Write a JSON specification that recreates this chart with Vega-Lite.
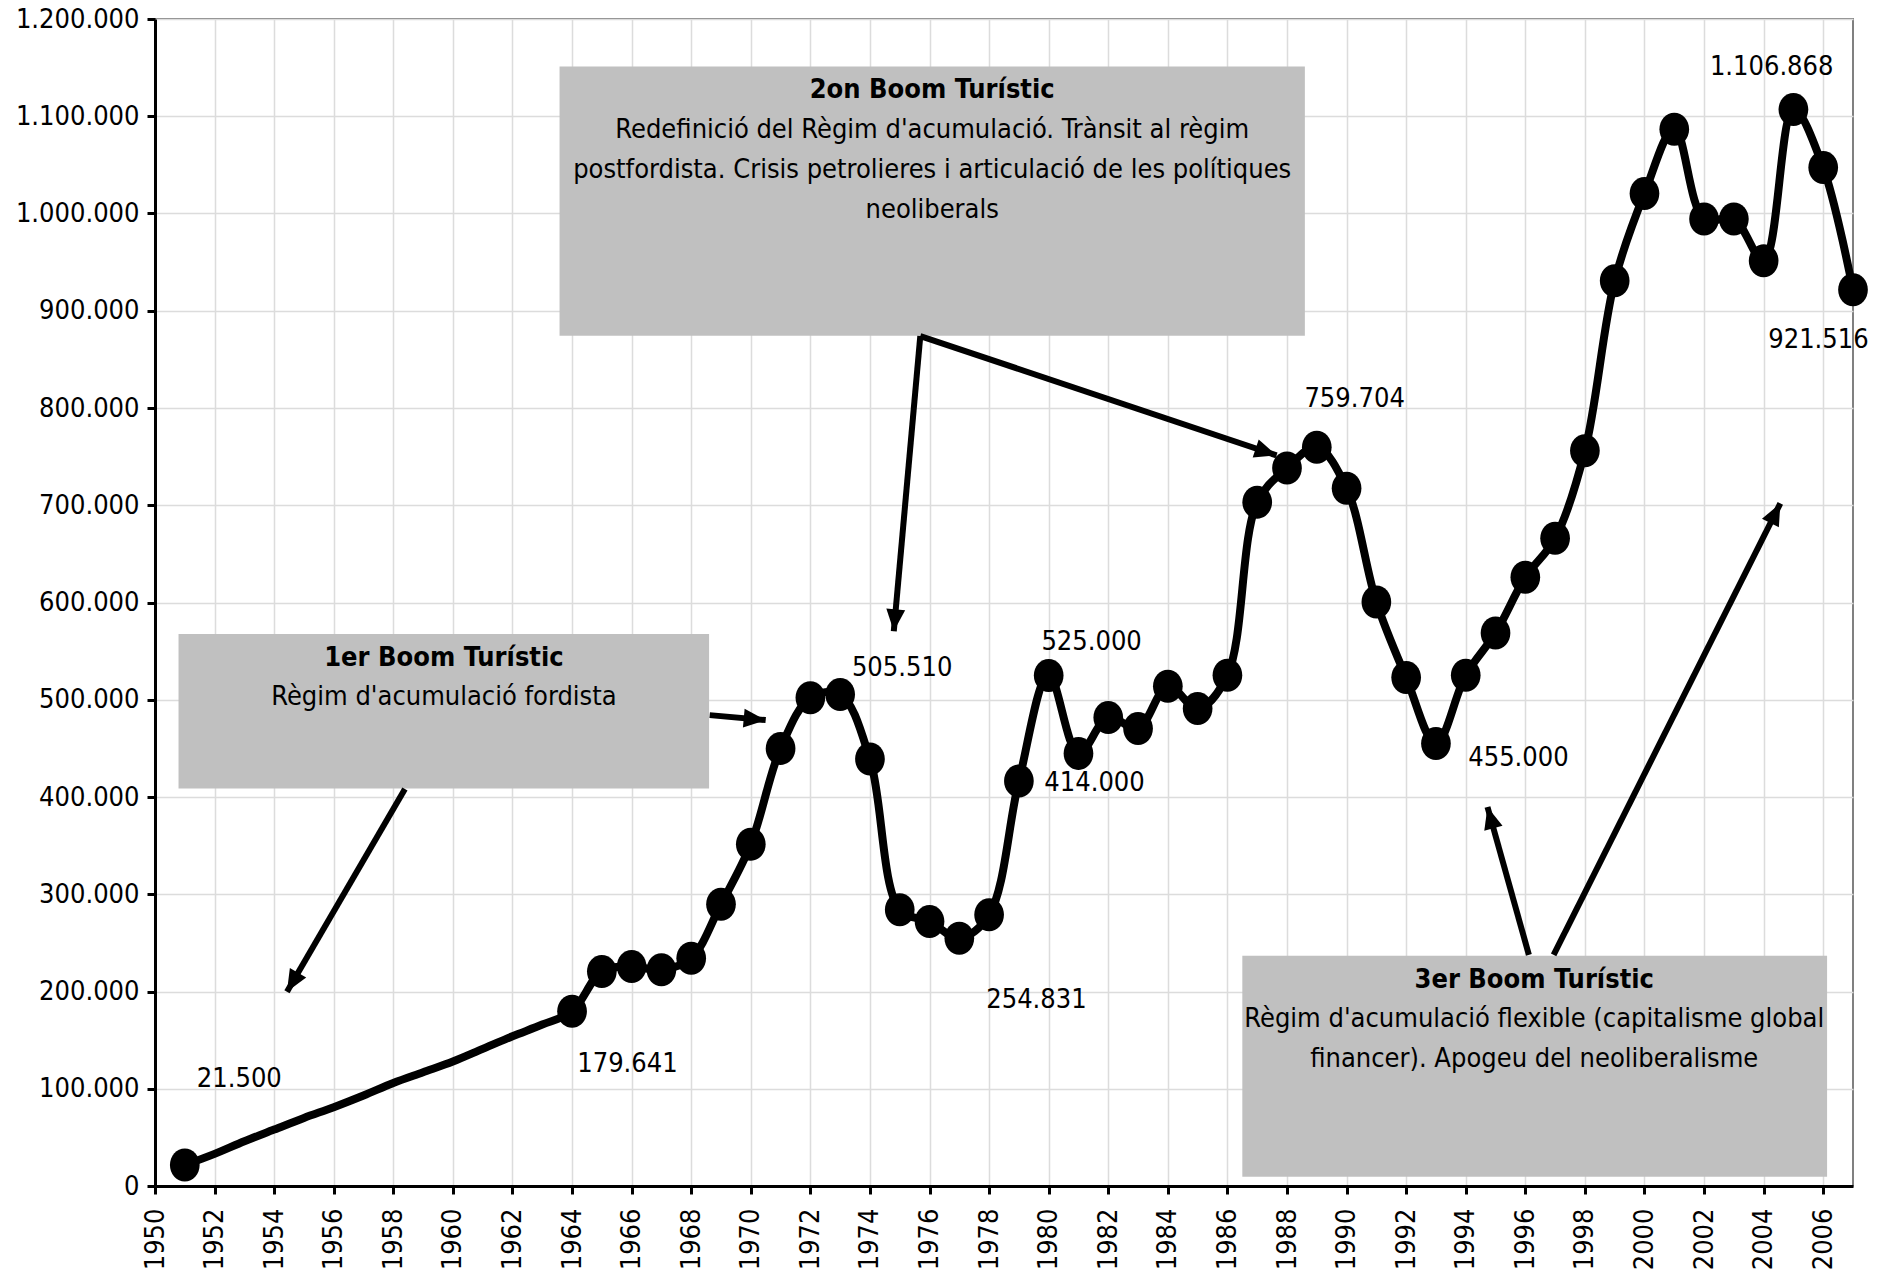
{
  "$schema": "https://vega.github.io/schema/vega-lite/v6.json",
  "width": 1698,
  "height": 1167,
  "autosize": {"type": "none"},
  "padding": {"left": 155, "top": 19, "right": 40, "bottom": 94},
  "background": "white",
  "config": {
    "font": "DejaVu Sans Condensed",
    "view": {"stroke": "#808080", "strokeWidth": 2},
    "axis": {
      "domainColor": "black", "domainWidth": 3,
      "tickColor": "black", "tickWidth": 3, "tickSize": 8,
      "labelColor": "black", "labelFontSize": 27, "labelFont": "DejaVu Sans Condensed",
      "gridColor": "#DCDCDC", "gridWidth": 1.5, "grid": true
    }
  },
  "datasets": {
    "series": [
      {"year": 1951, "visitors": 21500}, {"year": 1952, "visitors": 33000}, {"year": 1953, "visitors": 46000},
      {"year": 1954, "visitors": 58000}, {"year": 1955, "visitors": 70000}, {"year": 1956, "visitors": 81000},
      {"year": 1957, "visitors": 93000}, {"year": 1958, "visitors": 106000}, {"year": 1959, "visitors": 117000},
      {"year": 1960, "visitors": 128000}, {"year": 1961, "visitors": 141000}, {"year": 1962, "visitors": 154000},
      {"year": 1963, "visitors": 166000}, {"year": 1964, "visitors": 179641}, {"year": 1965, "visitors": 220600},
      {"year": 1966, "visitors": 225700}, {"year": 1967, "visitors": 222300}, {"year": 1968, "visitors": 234300},
      {"year": 1969, "visitors": 289800}, {"year": 1970, "visitors": 351400}, {"year": 1971, "visitors": 450000},
      {"year": 1972, "visitors": 502000}, {"year": 1973, "visitors": 505510}, {"year": 1974, "visitors": 439000},
      {"year": 1975, "visitors": 284000}, {"year": 1976, "visitors": 272000}, {"year": 1977, "visitors": 254831},
      {"year": 1978, "visitors": 278800}, {"year": 1979, "visitors": 416400}, {"year": 1980, "visitors": 525000},
      {"year": 1981, "visitors": 444800}, {"year": 1982, "visitors": 481800}, {"year": 1983, "visitors": 470500},
      {"year": 1984, "visitors": 514000}, {"year": 1985, "visitors": 491000}, {"year": 1986, "visitors": 525300},
      {"year": 1987, "visitors": 703200}, {"year": 1988, "visitors": 738200}, {"year": 1989, "visitors": 759704},
      {"year": 1990, "visitors": 717600}, {"year": 1991, "visitors": 600500}, {"year": 1992, "visitors": 522900},
      {"year": 1993, "visitors": 455000}, {"year": 1994, "visitors": 525300}, {"year": 1995, "visitors": 568700},
      {"year": 1996, "visitors": 626000}, {"year": 1997, "visitors": 666000}, {"year": 1998, "visitors": 756000},
      {"year": 1999, "visitors": 930900}, {"year": 2000, "visitors": 1020500}, {"year": 2001, "visitors": 1086700},
      {"year": 2002, "visitors": 994300}, {"year": 2003, "visitors": 994300}, {"year": 2004, "visitors": 951400},
      {"year": 2005, "visitors": 1106868}, {"year": 2006, "visitors": 1047200}, {"year": 2007, "visitors": 921516}
    ],
    "valueLabels": [
      {"year": 1952.83, "value": 110400, "text": "21.500"},
      {"year": 1965.86, "value": 125800, "text": "179.641"},
      {"year": 1975.08, "value": 532400, "text": "505.510"},
      {"year": 1979.59, "value": 191500, "text": "254.831"},
      {"year": 1981.44, "value": 559200, "text": "525.000"},
      {"year": 1981.54, "value": 414400, "text": "414.000"},
      {"year": 1990.27, "value": 809600, "text": "759.704"},
      {"year": 1995.77, "value": 440300, "text": "455.000"},
      {"year": 2004.27, "value": 1150200, "text": "1.106.868"},
      {"year": 2005.84, "value": 870300, "text": "921.516"}
    ],
    "boxes": [
      {"x1": 1950.79, "x2": 1968.60, "y1": 408800, "y2": 567700},
      {"x1": 1963.58, "x2": 1988.60, "y1": 874300, "y2": 1151200},
      {"x1": 1986.50, "x2": 2006.13, "y1": 9600, "y2": 236700}
    ],
    "boxTitles": [
      {"year": 1959.7, "value": 543200, "text": "1er Boom Turístic"},
      {"year": 1976.09, "value": 1126800, "text": "2on Boom Turístic"},
      {"year": 1996.3, "value": 212100, "text": "3er Boom Turístic"}
    ],
    "boxLines": [
      {"year": 1959.7, "value": 502700, "text": "Règim d'acumulació fordista"},
      {"year": 1976.09, "value": 1086000, "text": "Redefinició del Règim d'acumulació. Trànsit al règim"},
      {"year": 1976.09, "value": 1044900, "text": "postfordista. Crisis petrolieres i articulació de les polítiques"},
      {"year": 1976.09, "value": 1004100, "text": "neoliberals"},
      {"year": 1996.3, "value": 172200, "text": "Règim d'acumulació flexible (capitalisme global"},
      {"year": 1996.3, "value": 130600, "text": "financer). Apogeu del neoliberalisme"}
    ],
    "arrows": [
      {"xs": 1958.39, "ys": 408200, "xt": 1954.43, "yt": 199700, "angle": 210.2},
      {"xs": 1968.62, "ys": 484200, "xt": 1970.50, "yt": 479100, "angle": 95.1},
      {"xs": 1975.69, "ys": 874000, "xt": 1974.80, "yt": 570400, "angle": 185.1},
      {"xs": 1975.69, "ys": 874000, "xt": 1987.65, "yt": 751200, "angle": 108.5},
      {"xs": 1996.12, "ys": 237700, "xt": 1994.73, "yt": 389700, "angle": 344.4},
      {"xs": 1996.95, "ys": 237700, "xt": 2004.56, "yt": 701900, "angle": 26.7}
    ]
  },
  "layer": [
    {
      "data": {"name": "boxes"},
      "mark": {"type": "rect", "fill": "#C0C0C0"},
      "encoding": {
        "x": {"field": "x1", "type": "quantitative", "scale": {"domain": [1950, 2007], "nice": false, "zero": false},
          "axis": {"title": null, "values": [1950,1952,1954,1956,1958,1960,1962,1964,1966,1968,1970,1972,1974,1976,1978,1980,1982,1984,1986,1988,1990,1992,1994,1996,1998,2000,2002,2004,2006],
            "format": "d", "labelAngle": -90, "labelPadding": 14}},
        "x2": {"field": "x2"},
        "y": {"field": "y1", "type": "quantitative", "scale": {"domain": [0, 1200000], "nice": false},
          "axis": {"title": null, "values": [0,100000,200000,300000,400000,500000,600000,700000,800000,900000,1000000,1100000,1200000],
            "labelExpr": "replace(replace(format(datum.value, ',d'), ',', '.'), ',', '.')", "labelPadding": 8}},
        "y2": {"field": "y2"}
      }
    },
    {
      "data": {"name": "series"},
      "mark": {"type": "line", "color": "black", "strokeWidth": 8, "interpolate": "catmull-rom", "strokeCap": "round", "strokeJoin": "round"},
      "encoding": {
        "x": {"field": "year", "type": "quantitative", "title": null},
        "y": {"field": "visitors", "type": "quantitative", "title": null}
      }
    },
    {
      "data": {"name": "series"},
      "transform": [{"filter": "datum.year == 1951 || datum.year >= 1964"}],
      "mark": {"type": "point", "filled": true, "color": "black", "opacity": 1, "size": 1089,
        "shape": "M -0.9 0 A 0.9 1 0 1 1 0.9 0 A 0.9 1 0 1 1 -0.9 0 Z"},
      "encoding": {
        "x": {"field": "year", "type": "quantitative", "title": null},
        "y": {"field": "visitors", "type": "quantitative", "title": null}
      }
    },
    {
      "data": {"name": "arrows"},
      "mark": {"type": "rule", "color": "black", "strokeWidth": 6},
      "encoding": {
        "x": {"field": "xs", "type": "quantitative", "title": null},
        "y": {"field": "ys", "type": "quantitative", "title": null},
        "x2": {"field": "xt"},
        "y2": {"field": "yt"}
      }
    },
    {
      "data": {"name": "arrows"},
      "mark": {"type": "point", "filled": true, "color": "black", "opacity": 1, "size": 1936,
        "shape": "M 0 0 L -0.43 1 L 0.43 1 Z"},
      "encoding": {
        "x": {"field": "xt", "type": "quantitative", "title": null},
        "y": {"field": "yt", "type": "quantitative", "title": null},
        "angle": {"field": "angle", "type": "quantitative", "scale": null}
      }
    },
    {
      "data": {"name": "valueLabels"},
      "mark": {"type": "text", "fontSize": 27, "color": "black", "align": "center", "baseline": "middle", "font": "DejaVu Sans Condensed"},
      "encoding": {
        "x": {"field": "year", "type": "quantitative", "title": null},
        "y": {"field": "value", "type": "quantitative", "title": null},
        "text": {"field": "text"}
      }
    },
    {
      "data": {"name": "boxTitles"},
      "mark": {"type": "text", "fontSize": 27, "fontWeight": "bold", "color": "black", "align": "center", "baseline": "middle", "font": "DejaVu Sans Condensed"},
      "encoding": {
        "x": {"field": "year", "type": "quantitative", "title": null},
        "y": {"field": "value", "type": "quantitative", "title": null},
        "text": {"field": "text"}
      }
    },
    {
      "data": {"name": "boxLines"},
      "mark": {"type": "text", "fontSize": 27, "color": "black", "align": "center", "baseline": "middle", "font": "DejaVu Sans Condensed"},
      "encoding": {
        "x": {"field": "year", "type": "quantitative", "title": null},
        "y": {"field": "value", "type": "quantitative", "title": null},
        "text": {"field": "text"}
      }
    }
  ]
}
